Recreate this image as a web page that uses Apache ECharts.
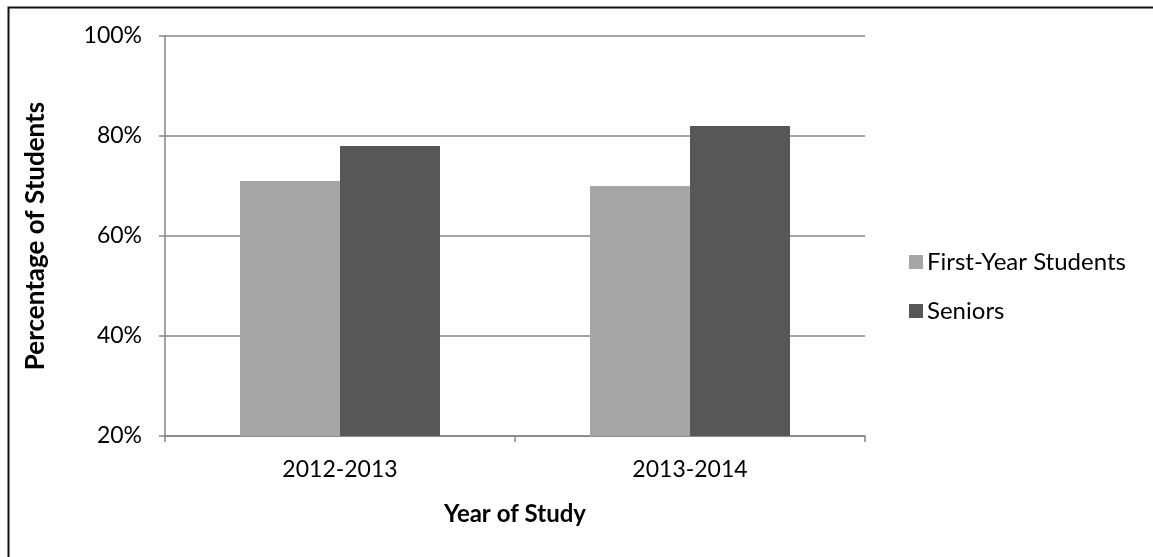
<!DOCTYPE html>
<html><head><meta charset="utf-8">
<script src="https://cdn.jsdelivr.net/npm/echarts@6/dist/echarts.min.js"></script>
<style>html,body{margin:0;padding:0;background:#fff}#c{width:1153px;height:557px}</style>
</head><body><div id="c"></div>
<script>
const categories = ['2012-2013', '2013-2014'];
const firstYear = [71, 70];
const seniors = [78, 82];
const seriesNames = ['First-Year Students', 'Seniors'];
const yTicks = [20, 40, 60, 80, 100];

const FONT = 'Lato, "Open Sans", sans-serif';
const chart = echarts.init(document.getElementById('c'));
chart.setOption({
  animation: false,
  backgroundColor: '#fff',
  graphic: [{
    type: 'rect', left: 6, top: 5, z: 100,
    shape: { width: 1160, height: 570 },
    style: { fill: 'none', stroke: '#111', lineWidth: 2 }
  }],
  grid: { left: 165, right: 288, top: 36, bottom: 121 },
  legend: {
    orient: 'vertical', left: 904, top: 245, itemGap: 25,
    itemWidth: 14, itemHeight: 14, icon: 'rect',
    textStyle: { fontFamily: FONT, fontSize: 24, color: '#000', padding: [0, 0, 0, -1] },
    data: seriesNames
  },
  xAxis: {
    type: 'category', data: categories,
    name: 'Year of Study', nameLocation: 'middle', nameGap: 66,
    nameTextStyle: { fontFamily: FONT, fontSize: 24, fontWeight: 'bold', color: '#000' },
    axisLine: { lineStyle: { color: '#868686', width: 1.5 } },
    axisTick: { show: true, length: 6, lineStyle: { color: '#868686', width: 1.5 } },
    axisLabel: { fontFamily: FONT, fontSize: 23, color: '#000', margin: 22 }
  },
  yAxis: {
    type: 'value', min: yTicks[0], max: yTicks[yTicks.length - 1], interval: 20,
    name: 'Percentage of Students', nameLocation: 'middle', nameGap: 116,
    nameTextStyle: { fontFamily: FONT, fontSize: 26, fontWeight: 'bold', color: '#000' },
    axisLine: { show: true, lineStyle: { color: '#868686', width: 1.5 } },
    axisTick: { show: true, length: 6, lineStyle: { color: '#868686', width: 1.5 } },
    axisLabel: { fontFamily: FONT, fontSize: 23, color: '#000', margin: 23, formatter: v => v + '%' },
    splitLine: { lineStyle: { color: '#868686', width: 1.5 } }
  },
  series: [
    { name: seriesNames[0], type: 'bar', data: firstYear, barWidth: 100, barGap: '0%', itemStyle: { color: '#A6A6A6' } },
    { name: seriesNames[1], type: 'bar', data: seniors, barWidth: 100, barGap: '0%', itemStyle: { color: '#575757' } }
  ]
});
</script></body></html>
